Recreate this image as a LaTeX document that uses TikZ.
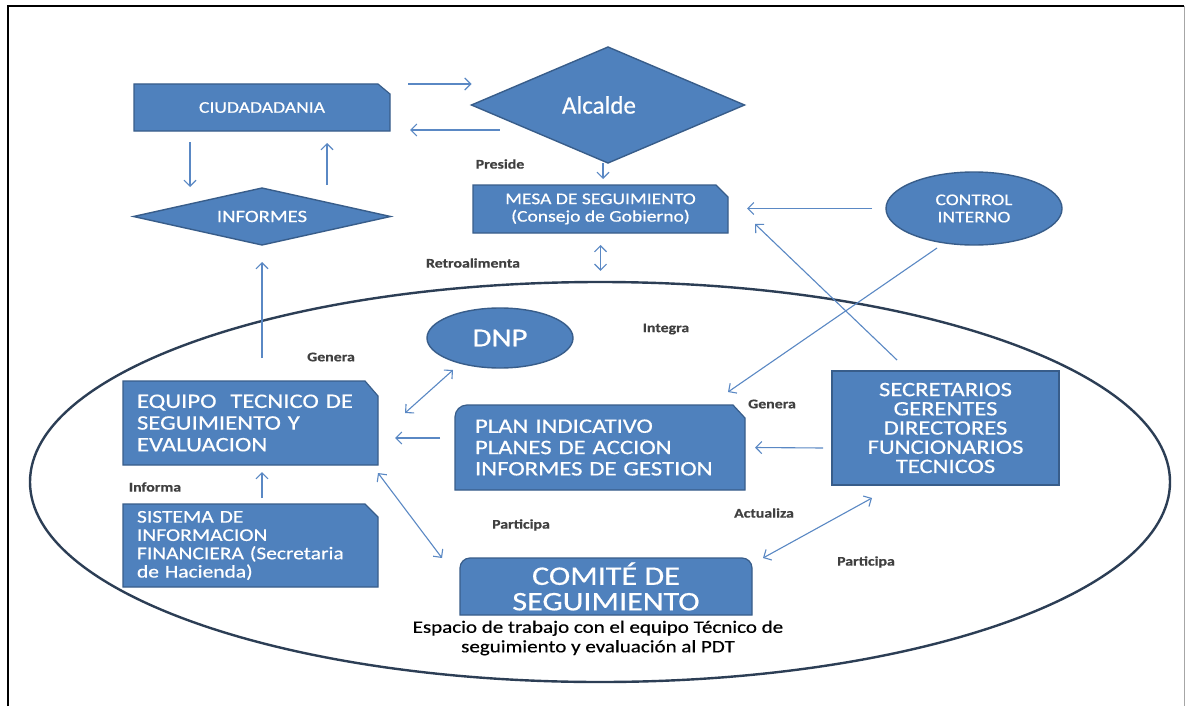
\documentclass[tikz,border=0pt]{standalone}
\usepackage{fontspec}
\setmainfont{Carlito}[FakeStretch=1.2,FakeBold=0.5]
\newfontfamily\plainfont{Carlito}[FakeBold=0.5]
\usetikzlibrary{shapes.geometric,arrows.meta,calc}
\definecolor{boxblue}{RGB}{79,129,189}
\definecolor{boxline}{RGB}{56,93,138}
\definecolor{arrblue}{RGB}{90,136,196}
\definecolor{ringline}{RGB}{44,62,85}
\definecolor{lblgray}{RGB}{64,64,64}
\pgfdeclarelayer{bg}
\pgfdeclarelayer{shp}
\pgfsetlayers{bg,shp,main}
\begin{document}
\begin{tikzpicture}[x=1pt,y=-1pt,
  btext/.style={text=white, inner sep=0pt, outer sep=0pt, draw=none},
  bshape/.style={fill=boxblue, draw=boxline, line width=1.2pt},
  blob/.style={fill=boxblue, draw=boxline, line width=1.4pt, inner sep=0pt, outer sep=0pt, text=white},
  arr/.style={draw=arrblue, line width=1.1pt, -{Straight Barb[length=6pt,width=12pt]}},
  darr/.style={draw=arrblue, line width=1.1pt, {Straight Barb[length=6pt,width=12pt]}-{Straight Barb[length=6pt,width=12pt]}},
  lbl/.style={text=lblgray, font=\bfseries\fontsize{13.2}{15}\selectfont, inner sep=0pt},
]
\useasboundingbox (0,0) rectangle (1190,706);
\begin{pgfonlayer}{bg}
\fill[white] (0,0) rectangle (1190,706);
\node[ellipse, draw=ringline, line width=2.4pt, minimum width=1140pt, minimum height=400pt, inner sep=0pt] (big) at (600,482) {};
\end{pgfonlayer}
\draw[black, line width=1.6pt] (8,706) -- (8,6) -- (1184,6);
\draw[black!35, line width=0.8pt] (1184,6) -- (1184,706);

% boxes (text nodes)
\node[btext, minimum width=256pt, minimum height=47pt, font=\fontsize{16.3}{18.7}\selectfont] (ciud) at (262,107.5) {CIUDADADANIA};
\node[btext, minimum width=255pt, minimum height=48pt, align=center, font=\fontsize{16.3}{17.5}\selectfont] (mesa) at (600.5,209) {MESA DE SEGUIMIENTO\\(Consejo de Gobierno)};
\node[btext, text width=227pt, minimum height=84pt, inner xsep=14pt, align=left, font=\fontsize{20.6}{21.7}\selectfont] (equipo) at (250.5,423) {EQUIPO\ \ TECNICO DE\\SEGUIMIENTO Y\\EVALUACION};
\node[btext, text width=227pt, minimum height=83pt, inner xsep=14pt, align=left, font=\fontsize{17.9}{18.3}\selectfont] (sist) at (250.5,545.5) {SISTEMA DE\\INFORMACION\\FINANCIERA (Secretaria\\de Hacienda)};
\node[btext, text width=250pt, minimum height=85pt, inner xsep=20pt, align=left, font=\fontsize{20.6}{21.3}\selectfont] (plan) at (600,447.5) {PLAN INDICATIVO\\PLANES DE ACCION\\INFORMES DE GESTION};
\node[btext, minimum width=227pt, minimum height=114pt, align=center, font=\fontsize{20.5}{19.2}\selectfont] (secr) at (945.5,428) {SECRETARIOS\\GERENTES\\DIRECTORES\\FUNCIONARIOS\\TECNICOS};
\node[btext, minimum width=292pt, minimum height=57pt, align=center, font=\fontsize{26.8}{25.5}\selectfont] (comite) at (606,586.5) {COMITÉ DE\\SEGUIMIENTO};

% diamonds and ellipses
\node[blob, diamond, minimum width=273pt, minimum height=116pt, aspect=2.35, font=\plainfont\fontsize{25}{28}\selectfont] (alc) at (608,105) {\hspace*{-18pt}Alcalde};
\node[blob, diamond, minimum width=257pt, minimum height=57pt, aspect=4.5, font=\fontsize{17.3}{19}\selectfont] (inf) at (262,216.5) {INFORMES};
\node[blob, ellipse, minimum width=176pt, minimum height=73pt, align=center, font=\fontsize{16.3}{17.3}\selectfont] (ctrl) at (974,208.5) {CONTROL\\INTERNO};
\node[blob, ellipse, minimum width=146pt, minimum height=60pt, font=\fontsize{25.8}{28}\selectfont] (dnp) at (500,338) {DNP};

% box shapes behind the texts
\begin{pgfonlayer}{shp}
\path[bshape] (ciud.south west) -- (ciud.north west) -- ([xshift=-12pt]ciud.north east) -- ([yshift=-10pt]ciud.north east) -- (ciud.south east) -- cycle;
\path[bshape] (mesa.south west) -- (mesa.north west) -- ([xshift=-12pt]mesa.north east) -- ([yshift=-12pt]mesa.north east) -- (mesa.south east) -- cycle;
\path[bshape] (equipo.south west) -- (equipo.north west) -- ([xshift=-13pt]equipo.north east) -- ([yshift=-15pt]equipo.north east) -- (equipo.south east) -- cycle;
\path[bshape] (sist.south west) -- (sist.north west) -- ([xshift=-13pt]sist.north east) -- ([yshift=-13pt]sist.north east) -- (sist.south east) -- cycle;
\path[bshape] (plan.south west) -- ([yshift=-12pt]plan.north west) arc[start angle=180, end angle=90, radius=12pt] -- ([xshift=-12pt]plan.north east) -- ([yshift=-13pt]plan.north east) -- (plan.south east) -- cycle;
\path[bshape] (comite.south west) -- ([yshift=-10pt]comite.north west) arc[start angle=180, end angle=90, radius=10pt] -- ([xshift=-10pt]comite.north east) arc[start angle=90, end angle=0, radius=10pt] -- (comite.south east) -- cycle;
\path[bshape] (secr.south west) rectangle (secr.north east);
\end{pgfonlayer}

% caption below comite
\node[align=center, font=\fontsize{17.5}{19.5}\selectfont, inner sep=0pt] (esp) at (598,638) {Espacio de trabajo con el equipo Técnico de\\seguimiento y evaluación al PDT};

% labels
\node[lbl] (lpreside) at (500,164) {Preside};
\node[lbl] (lretro) at (473,263) {Retroalimenta};
\node[lbl] (lgenera) at (331,357) {Genera};
\node[lbl] (lintegra) at (666,329) {Integra};
\node[lbl] (lgenera2) at (772,404) {Genera};
\node[lbl] (linforma) at (155,487) {Informa};
\node[lbl] (lpart) at (521,525) {Participa};
\node[lbl] (lactual) at (764,513) {Actualiza};
\node[lbl] (lpart2) at (866,562) {Participa};

% connectors
\draw[arr] ($(ciud.north east)+(18pt,0)$) -- (alc.west |- ciud.north east);
\draw[arr] ($(alc.west |- ciud.south east)+(28pt,1pt)$) -- ($(ciud.south east)+(20pt,1pt)$);
\draw[arr, shorten >=6pt] ($(alc.south)+(-5pt,0)$) -- ($(alc.south |- mesa.north)+(-5pt,0)$);
\draw[darr, shorten <=12pt, shorten >=10pt] (mesa.south) -- (mesa.south |- big.north);
\draw[arr, shorten <=14pt, shorten >=19pt] (ctrl.west) -- (ctrl.west -| mesa.east);
\draw[arr] ($(ctrl.south)+(-37pt,-3pt)$) -- ($(plan.north east)+(-17pt,13pt)$);
\draw[arr] ($(secr.north west)+(65pt,11pt)$) -- ($(mesa.south east)+(27pt,9pt)$);
\draw[arr] ($(ciud.south west)+(56pt,-11pt)$) -- ($(inf.north)+(-72pt,1pt)$);
\draw[arr] ($(inf.north)+(65pt,3pt)$) -- ($(ciud.south west)+(193pt,-12pt)$);
\draw[arr] ($(equipo.north)+(11.5pt,23pt)$) -- ($(inf.south)+(0,-17pt)$);
\draw[darr] ($(dnp.south)+(-47pt,-2pt)$) -- ($(equipo.north east)+(27pt,-32pt)$);
\draw[arr] ($(plan.west)+(-15pt,9.5pt)$) -- ($(equipo.east)+(17pt,-15pt)$);
\draw[arr] ($(sist.north)+(11.5pt,6pt)$) -- ($(equipo.south)+(11.5pt,-7pt)$);
\draw[darr] ($(equipo.south east)+(0,-8pt)$) -- ($(comite.north west)+(-18pt,0)$);
\draw[arr] ($(secr.west)+(-9pt,-20pt)$) -- ($(plan.east)+(10pt,0)$);
\draw[darr] ($(comite.north east)+(11pt,0)$) -- ($(secr.south west)+(40pt,-13pt)$);
\end{tikzpicture}
\end{document}
